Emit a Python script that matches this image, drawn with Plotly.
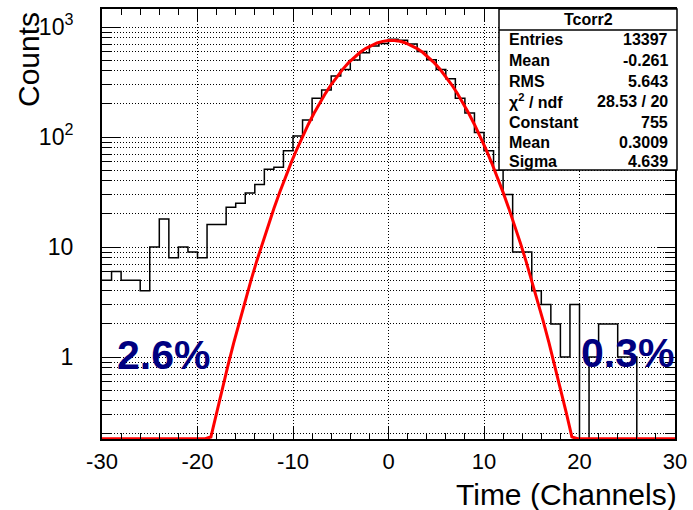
import numpy as np
import plotly.graph_objects as go

# ---------------- data ----------------
bin_low_edges = list(range(-30, 30))  # 1-channel bins from -30 to 30
counts = [5, 6, 5, 5, 4, 10, 18, 8, 10, 9,
          8, 16, 16, 23, 25, 31, 37, 51, 53, 75,
          102, 143, 225, 267, 359, 412, 501, 584, 672, 710,
          775, 760, 700, 600, 505, 410, 338, 225, 165, 110,
          75, 50, 30, 9, 9, 4, 3, 2, 1, 3,
          0, 1, 2, 2, 1, 1, 0, 0, 0, 0]
x_max_edge = 30

fit_constant = 755.0
fit_mean = 0.3009
fit_sigma = 4.639

stat_title = "Tcorr2"
stat_labels = ["Entries", "Mean", "RMS", "χ<sup>2</sup> / ndf", "Constant", "Mean", "Sigma"]
stat_values = ["13397", "-0.261", "5.643", "28.53 / 20", "755", "0.3009", "4.639"]

tail_labels = ["2.6%", "0.3%"]
tail_x = [-23.6, 25.0]
tail_y = [1.05, 1.1]

x_ticks = [-30, -20, -10, 0, 10, 20, 30]
y_ticks = [1, 10, 100, 1000]
y_ticktext = ["1", "10", "10<sup>2</sup>", "10<sup>3</sup>"]

y_min, y_max = 0.18, 1458.0

# ---------------- figure ----------------
FONT = "Liberation Sans, Arial, Helvetica, sans-serif"
floor = 1e-3

hx = list(bin_low_edges) + [x_max_edge]
hy = [c if c > 0 else floor for c in counts]
hy = hy + [hy[-1]]

fx = np.linspace(-30, 30, 101)
fy = fit_constant * np.exp(-0.5 * ((fx - fit_mean) / fit_sigma) ** 2)
fy = np.maximum(fy, y_min * 1.005)

fig = go.Figure()
fig.add_trace(go.Scatter(x=hx, y=hy, mode="lines", line=dict(shape="hv", color="black", width=1.5),
                         hoverinfo="skip", showlegend=False))
fig.add_trace(go.Scatter(x=fx, y=fy, mode="lines", line=dict(color="#ff0000", width=3),
                         hoverinfo="skip", showlegend=False))

minor_y = [k * 10.0 ** e for e in range(-1, 4) for k in range(2, 10) if y_min < k * 10.0 ** e < y_max]

fig.update_xaxes(range=[-30, 30], tickvals=x_ticks, ticktext=[str(v) for v in x_ticks],
                 ticks="inside", ticklen=13, tickwidth=1, tickcolor="black",
                 showline=True, linewidth=2, linecolor="black", mirror="allticks",
                 showgrid=True, gridcolor="black", gridwidth=1, griddash="1px,2px",
                 zeroline=False,
                 minor=dict(dtick=2, ticks="inside", ticklen=6, tickcolor="black", tickwidth=1, showgrid=False),
                 tickfont=dict(family=FONT, size=22, color="black"), ticklabelstandoff=2)
fig.update_yaxes(type="log", range=[np.log10(y_min), np.log10(y_max)],
                 tickvals=y_ticks, ticktext=y_ticktext,
                 ticks="inside", ticklen=18, tickwidth=1, tickcolor="black",
                 showline=True, linewidth=2, linecolor="black", mirror="allticks",
                 showgrid=True, gridcolor="black", gridwidth=1, griddash="1px,2px",
                 zeroline=False,
                 minor=dict(tickvals=minor_y, ticks="inside", ticklen=10, tickcolor="black", tickwidth=1,
                            showgrid=True, gridcolor="black", gridwidth=1, griddash="1px,2px"),
                 tickfont=dict(family=FONT, size=23, color="black"), ticklabelstandoff=22)

L, R, T, B = 102, 18, 9, 71
W, H = 693, 510
pw, ph = W - L - R, H - T - B

def px(xp):
    return (xp - L) / pw

def py(yp):
    return (H - B - yp) / ph

# stats box
fig.add_shape(type="rect", xref="paper", yref="paper", x0=px(499), x1=px(677), y0=py(170), y1=py(9),
              fillcolor="white", line=dict(color="black", width=1.5), layer="above")
fig.add_shape(type="line", xref="paper", yref="paper", x0=px(499), x1=px(677), y0=py(30), y1=py(30),
              line=dict(color="black", width=1.5), layer="above")

annotations = []
annotations.append(dict(text="<b>%s</b>" % stat_title, xref="paper", yref="paper", x=px(588), y=py(20),
                        xanchor="center", yanchor="middle", showarrow=False,
                        font=dict(family=FONT, size=16, color="black")))
row_y = [40, 61, 81, 101, 122, 142, 161]
for lab, val, yy in zip(stat_labels, stat_values, row_y):
    annotations.append(dict(text="<b>%s</b>" % lab, xref="paper", yref="paper", x=px(507), y=py(yy),
                            xanchor="left", yanchor="middle", showarrow=False,
                            font=dict(family=FONT, size=16, color="black")))
    annotations.append(dict(text="<b>%s</b>" % val, xref="paper", yref="paper", x=px(670), y=py(yy),
                            xanchor="right", yanchor="middle", showarrow=False,
                            font=dict(family=FONT, size=16, color="black")))

for t, xx, yy in zip(tail_labels, tail_x, tail_y):
    annotations.append(dict(text="<b>%s</b>" % t, xref="x", yref="y", x=xx, y=np.log10(yy),
                            xanchor="center", yanchor="middle", showarrow=False,
                            font=dict(family=FONT, size=41, color="#000080")))

annotations.append(dict(text="Counts", xref="paper", yref="paper", x=px(28), y=py(60),
                        xanchor="center", yanchor="middle", textangle=-90, showarrow=False,
                        font=dict(family=FONT, size=30, color="black")))
annotations.append(dict(text="Time (Channels)", xref="paper", yref="paper", x=px(679), y=py(494),
                        xanchor="right", yanchor="middle", showarrow=False,
                        font=dict(family=FONT, size=30, color="black")))

fig.update_layout(width=W, height=H, margin=dict(l=L, r=R, t=T, b=B, autoexpand=False),
                  paper_bgcolor="white", plot_bgcolor="white", annotations=annotations,
                  showlegend=False)

fig.write_html("out.html")
